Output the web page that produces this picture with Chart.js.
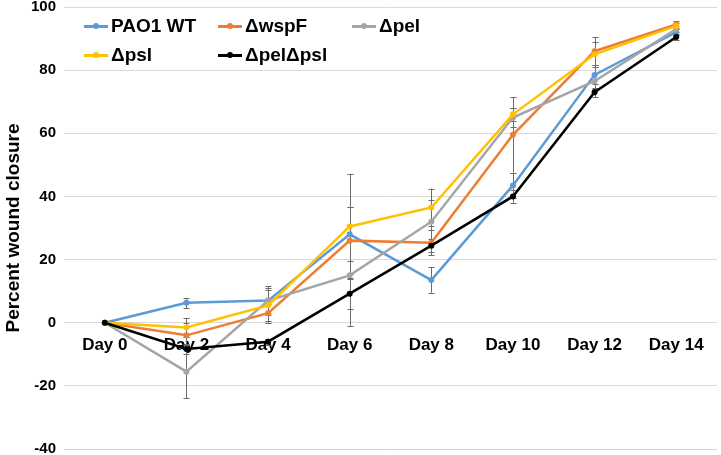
<!DOCTYPE html>
<html>
<head>
<meta charset="utf-8">
<script src="https://cdn.jsdelivr.net/npm/chart.js@4"></script>
<style>
  html, body { margin: 0; padding: 0; background: #fff; }
  #wrap { position: relative; width: 721px; height: 455px; }
  #legend { position: absolute; left: 0; top: 0; font-family: Arial, "Liberation Sans", sans-serif; font-weight: bold; font-size: 19px; color: #000; }
  .item { position: absolute; display: flex; align-items: center; white-space: nowrap; transform: translateY(-50%); }
  .mark { position: relative; width: 24px; height: 10px; margin-right: 3px; }
  .mark .ln { position: absolute; left: 0; right: 0; top: 4px; height: 2.5px; }
  .mark .dt { position: absolute; left: 9px; top: 2px; width: 6px; height: 6px; border-radius: 50%; }
</style>
</head>
<body>
<div id="wrap">
  <canvas id="woundChart" width="721" height="455"></canvas>
  <div id="legend"></div>
</div>
<script>
const days = ['Day 0', 'Day 2', 'Day 4', 'Day 6', 'Day 8', 'Day 10', 'Day 12', 'Day 14'];

const seriesNames = ['PAO1 WT', '\u0394wspF', '\u0394pel', '\u0394psl', '\u0394pel\u0394psl'];
const seriesColors = ['#5b9bd5', '#ed7d31', '#a5a5a5', '#ffc000', '#000000'];

const wt = [0, 6.3, 7, 28, 13.5, 43.5, 78.5, 92];
const wspF = [0, -4, 3, 26, 25.3, 59.5, 86, 94.5];
const pel = [0, -15.5, 7, 15, 32, 65, 76.5, 93];
const psl = [0, -1.5, 5.5, 30.5, 36.5, 66, 85, 94];
const pelPsl = [0, -8.3, -6, 9.2, 24.4, 40, 73, 90.5];

// error bar half-widths (same units)
const wtErr = [0.5, 1.6, 4.5, 8.5, 4, 4, 3, 1];
const wspFErr = [0.5, 4, 3, 10.5, 4, 12, 4.5, 1];
const pelErr = [0.5, 8.5, 4, 16, 7, 3, 2.5, 1];
const pslErr = [0.5, 3, 5, 16.5, 6, 2, 4, 1];
const pelPslErr = [0.5, 1.5, 1, 5, 2, 2, 1.5, 1];

const values = [wt, wspF, pel, psl, pelPsl];
const errors = [wtErr, wspFErr, pelErr, pslErr, pelPslErr];

const yTicks = [-40, -20, 0, 20, 40, 60, 80, 100];

const errorBars = {
  id: 'errorBars',
  beforeDatasetsDraw(chart) {
    const ctx = chart.ctx;
    const y = chart.scales.y;
    ctx.save();
    ctx.strokeStyle = '#6b6b6b';
    ctx.lineWidth = 1;
    chart.data.datasets.forEach((ds, di) => {
      const meta = chart.getDatasetMeta(di);
      meta.data.forEach((pt, i) => {
        const e = ds.errs[i];
        const top = y.getPixelForValue(ds.data[i] + e);
        const bot = y.getPixelForValue(ds.data[i] - e);
        const x = Math.round(pt.x) + 0.5;
        ctx.beginPath();
        ctx.moveTo(x, top);
        ctx.lineTo(x, bot);
        ctx.moveTo(x - 3, Math.round(top) + 0.5);
        ctx.lineTo(x + 3, Math.round(top) + 0.5);
        ctx.moveTo(x - 3, Math.round(bot) + 0.5);
        ctx.lineTo(x + 3, Math.round(bot) + 0.5);
        ctx.stroke();
      });
    });
    ctx.restore();
  }
};

const noPad = (scale) => {
  scale.paddingTop = 0;
  scale.paddingBottom = 0;
  scale.paddingLeft = 0;
  scale.paddingRight = 0;
};

new Chart(document.getElementById('woundChart'), {
  type: 'line',
  data: {
    labels: days,
    datasets: seriesNames.map((name, i) => ({
      label: name,
      data: values[i],
      errs: errors[i],
      borderColor: seriesColors[i],
      backgroundColor: seriesColors[i],
      borderWidth: 2.5,
      pointRadius: 3,
      pointBorderWidth: 0,
      tension: 0,
      order: seriesNames.length - i
    }))
  },
  options: {
    responsive: false,
    animation: false,
    layout: { padding: { top: 7, right: 0, bottom: 6, left: 0 } },
    plugins: {
      legend: { display: false },
      tooltip: { enabled: false }
    },
    scales: {
      x: {
        position: { y: 0 },
        offset: true,
        afterFit: noPad,
        grid: { display: false, drawTicks: false },
        border: { display: false },
        ticks: {
          color: '#000',
          padding: 12,
          maxRotation: 0,
          font: { family: 'Arial, "Liberation Sans", sans-serif', size: 17, weight: 'bold' }
        }
      },
      y: {
        min: -40,
        max: 100,
        afterBuildTicks: (scale) => { scale.ticks = yTicks.map(v => ({ value: v })); },
        afterFit: (scale) => { scale.width = 64; noPad(scale); },
        grid: { color: '#d9d9d9', lineWidth: 1, drawTicks: false },
        border: { display: false },
        ticks: {
          color: '#000',
          padding: 8,
          font: { family: 'Arial, "Liberation Sans", sans-serif', size: 15, weight: 'bold', lineHeight: 1 }
        },
        title: {
          display: true,
          text: 'Percent wound closure',
          color: '#000',
          padding: { top: 2, bottom: 0 },
          font: { family: 'Arial, "Liberation Sans", sans-serif', size: 19, weight: 'bold' }
        }
      }
    }
  },
  plugins: [errorBars]
});

// legend laid out in a 3-column grid like the original
const legendCols = [84, 218, 352];
const legendRows = [26, 55];
const legendBox = document.getElementById('legend');
seriesNames.forEach((name, i) => {
  const item = document.createElement('div');
  item.className = 'item';
  item.style.left = legendCols[i % 3] + 'px';
  item.style.top = legendRows[Math.floor(i / 3)] + 'px';
  item.innerHTML = '<span class="mark"><span class="ln" style="background:' + seriesColors[i] +
    '"></span><span class="dt" style="background:' + seriesColors[i] + '"></span></span>' + name;
  legendBox.appendChild(item);
});
</script>
</body>
</html>
